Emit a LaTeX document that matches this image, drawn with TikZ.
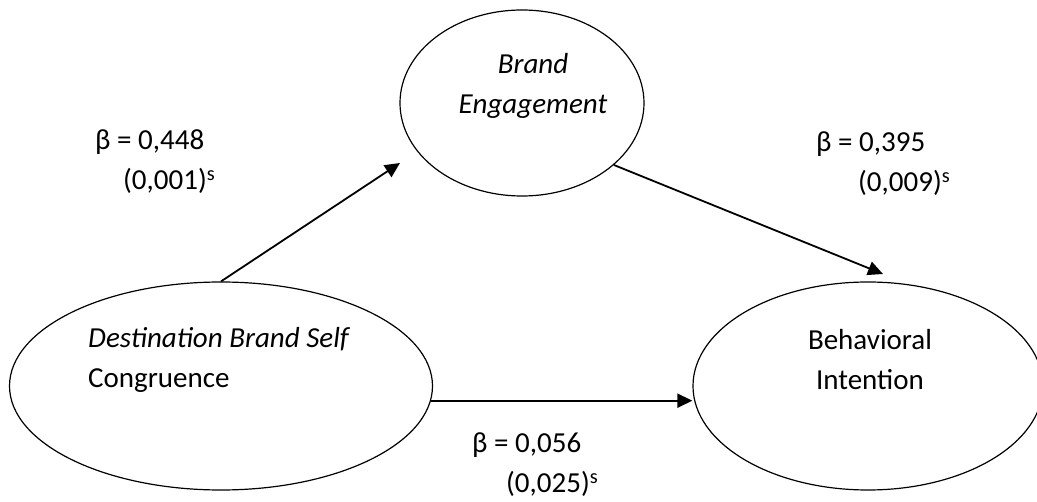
\documentclass[tikz,border=0pt]{standalone}
\usepackage{fontspec}
\setmainfont{Carlito}
\usetikzlibrary{arrows.meta, shapes.geometric, positioning}
\tikzset{latent/.style={draw, ellipse, line width=1.2pt, inner sep=0pt},
    txt/.style={font=\fontsize{29}{40}\selectfont, inner sep=0pt},
    path/.style={line width=1.8pt, -{Triangle[length=15pt, width=14pt]}}
}

\begin{document}
\begin{tikzpicture}[x=1pt, y=-1pt]
        \useasboundingbox (0, 0) rectangle (1037, 502);
        \node[latent, minimum width=244, minimum height=186] (eng) at (522, 103) {};
        \node[txt, align=center] (engtxt) at (533, 86) {\textit{Brand}\\\textit{Engagement}};

        \node[latent, minimum width=423, minimum height=208] (dest) at (221, 386) {};
        \node[txt, align=left, anchor=west] (desttxt) at (88, 360) {\textit{Destination Brand Self}\\Congruence};

        \node[latent, minimum width=350, minimum height=208] (beh) at (868, 386) {};
        \node[txt, align=center] (behtxt) at (870, 360) {Behavioral\\Intention};

        \coordinate (tipA) at (400, 163);
        \coordinate (tipB) at (883, 274);
        \draw[path] (dest.north) -- (tipA);
        \draw[path] (eng.-34) -- (tipB);
        \draw[path] (dest.-4) -- (dest.-4 -| beh.west);

        \node[txt, align=left, anchor=west] (labA) at (95, 162) {β = 0,448\\\hspace*{28pt}(0,001)\textsuperscript{s}};
        \node[txt, align=left, anchor=west] (labB) at (816, 164) {β = 0,395\\\hspace*{42pt}(0,009)\textsuperscript{s}};
        \node[txt, align=left, anchor=west] (labC) at (472, 465) {β = 0,056\\\hspace*{34pt}(0,025)\textsuperscript{s}};
    \end{tikzpicture}
\end{document}
